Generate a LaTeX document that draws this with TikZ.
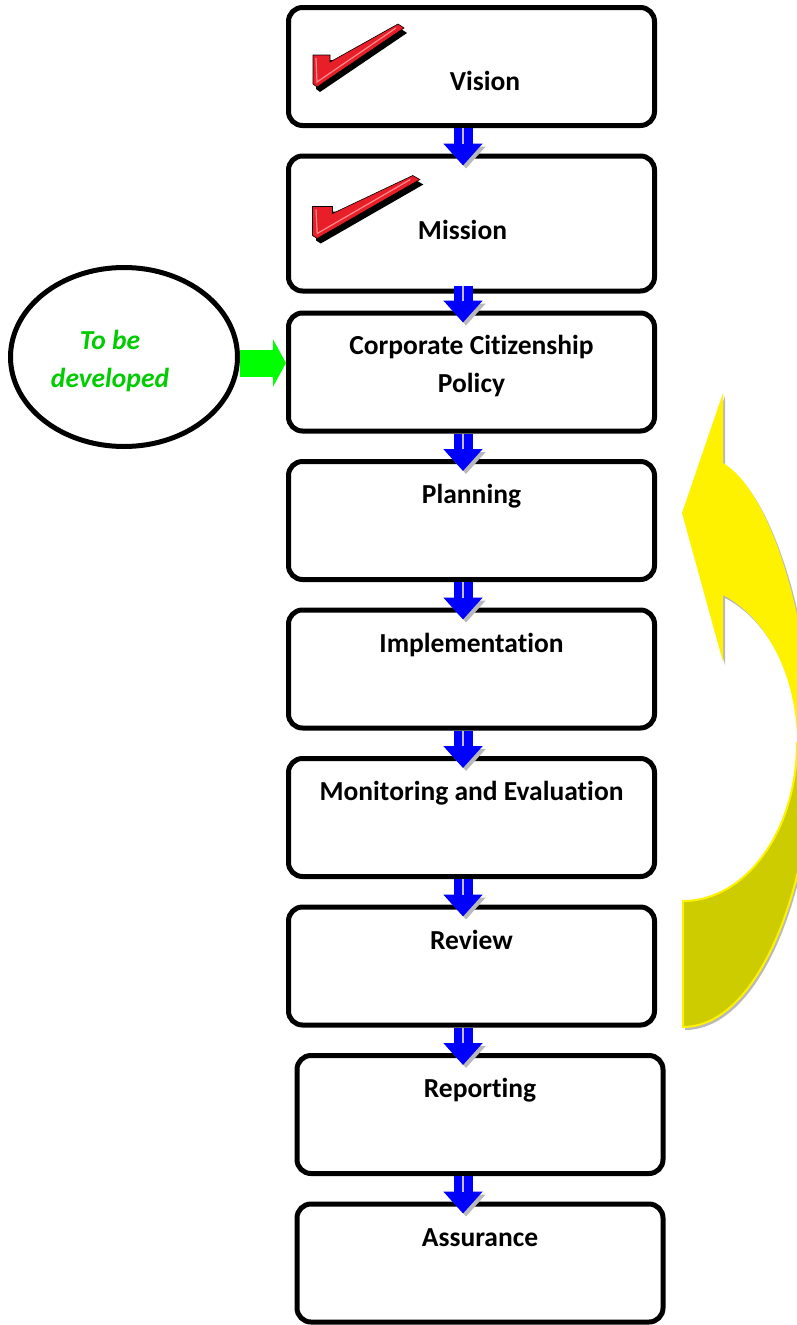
\documentclass[tikz,border=0pt]{standalone}
\usepackage{fontspec}
\setmainfont[RawFeature={-liga;-clig;-calt;-dlig}]{Carlito}
\usetikzlibrary{shapes.geometric,arrows.meta,positioning}

\definecolor{tickred}{RGB}{232,30,40}
\definecolor{notegreen}{RGB}{0,204,0}
\definecolor{backyellow}{RGB}{204,204,0}

% red tick with its black side
\tikzset{
    tick/.pic={
        \fill[black, shift={(3,5)}] (-3,-32) -- (14,-32) -- (14,-25) -- (82,-63) -- (88,-59) -- (1,0) -- (-3,-3) -- cycle;
        \fill[tickred, draw=black, line width=0.6pt] (-3,-32) -- (14,-32) -- (14,-25) -- (82,-63) -- (88,-59) -- (1,0) -- (-3,-3) -- cycle;
        \draw[red!45!white, line width=1.2pt] (0,-29) -- (1,-5) -- (80,-59);
    }
}

\begin{document}
\begin{tikzpicture}[
    x=1pt, y=-1pt,
    node distance=25.5pt,
    box/.style={rectangle, draw, line width=5pt, rounded corners=14pt, minimum width=366pt, minimum height=118pt, align=center, font=\fontsize{27.5}{38}\selectfont\bfseries},
    toptext/.style={text height=20pt, text depth=54pt},
    note/.style={ellipse, draw, line width=5pt, minimum width=227pt, minimum height=179pt},
    notetext/.style={align=center, text=notegreen, font=\fontsize{27.5}{38}\selectfont\bfseries\itshape},
    flow/.style={line width=19pt, blue, -{Triangle[width=38pt,length=22pt]}, shorten >=-12pt,
        preaction={draw=gray!55, transform canvas={shift={(3pt,-3pt)}}},
        postaction={draw=blue!25!white, line width=1.2pt, -, shorten >=10pt}},
    feed/.style={line width=27pt, green, -{Triangle[width=47pt,length=13pt]}}
]
    \fill[white] (0,0) rectangle (797,1325);
    \useasboundingbox (0,0) rectangle (797,1325);

    % process steps
    \node[box, text height=47pt, text depth=0pt] (vision) at (471.5,66.5) {\mbox{\hspace{27pt}Vision}};
    \node[box, minimum height=135pt, text height=32pt, text depth=0pt, below=of vision] (mission) {\mbox{Mission\hspace{18pt}}};
    \node[box, text depth=17pt, below=17pt of mission] (policy) {Corporate Citizenship\\Policy};
    \node[box, toptext, below=of policy] (planning) {Planning};
    \node[box, toptext, below=of planning] (implementation) {Implementation};
    \node[box, toptext, below=of implementation] (monitoring) {Monitoring and Evaluation};
    \node[box, toptext, below=of monitoring] (review) {Review};
    \node[box, toptext, below=of review, xshift=8.5pt] (reporting) {Reporting};
    \node[box, toptext, below=of reporting] (assurance) {Assurance};

    \pic at ([shift={(30pt,41pt)}]vision.south west) {tick};
    \pic[xscale=1.18] at ([shift={(30pt,55pt)}]mission.south west) {tick};

    % policy still to be written
    \node[note] (todo) at (124,357) {};
    \node[notetext] (todotext) at (110,361) {To be\\developed};
    \draw[feed] ([yshift=-6pt]todo.east) -- ([yshift=-6pt]todo.east -| policy.west);

    \draw[flow] ([xshift=-8.5pt]vision.south) -- ([xshift=-8.5pt]mission.north);
    \draw[flow, shorten <=-8pt] ([xshift=-8.5pt]mission.south) -- ([xshift=-8.5pt]policy.north);
    \draw[flow] ([xshift=-8.5pt]policy.south) -- ([xshift=-8.5pt]planning.north);
    \draw[flow] ([xshift=-8.5pt]planning.south) -- ([xshift=-8.5pt]implementation.north);
    \draw[flow] ([xshift=-8.5pt]implementation.south) -- ([xshift=-8.5pt]monitoring.north);
    \draw[flow] ([xshift=-8.5pt]monitoring.south) -- ([xshift=-8.5pt]review.north);
    \draw[flow] ([xshift=-8.5pt]review.south) -- ([xshift=-17pt]reporting.north);
    \draw[flow] ([xshift=-17pt]reporting.south) -- ([xshift=-17pt]assurance.north);

    % curved arrow back up to planning
    \begin{scope}[shift={(2,3)}]
        \fill[gray!55] (723,393) -- (682,513) -- (723,662) -- (723,595) arc[start angle=-69.5, end angle=0, x radius=114, y radius=158]
            -- (812,743) .. controls (810,620) and (770,490) .. (723,463) -- cycle;
        \fill[gray!55] (797,743) arc[start angle=0, end angle=90, x radius=114, y radius=158]
            -- (683,1027) .. controls (760,1027) and (814,880) .. (812,743) -- cycle;
    \end{scope}
    \fill[yellow] (723,393) -- (682,513) -- (723,662) -- (723,595) arc[start angle=-69.5, end angle=0, x radius=114, y radius=158]
        -- (812,743) .. controls (810,620) and (770,490) .. (723,463) -- cycle;
    \filldraw[fill=backyellow, draw=yellow, line width=2pt] (797,743) arc[start angle=0, end angle=90, x radius=114, y radius=158]
        -- (683,1027) .. controls (760,1027) and (814,880) .. (812,743) -- cycle;
\end{tikzpicture}
\end{document}
